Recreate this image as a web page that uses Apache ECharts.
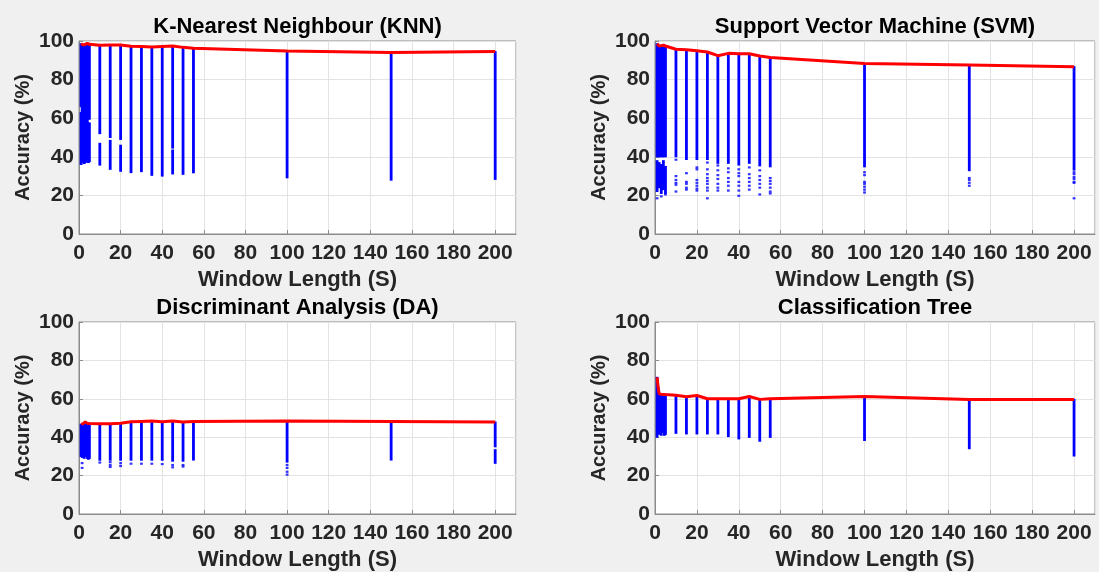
<!DOCTYPE html>
<html>
<head>
<meta charset="utf-8">
<script src="https://cdn.jsdelivr.net/npm/echarts@6/dist/echarts.min.js"></script>
<style>
html,body{margin:0;padding:0;background:#f0f0f0;}
#c{width:1099px;height:572px;}
</style>
</head>
<body>
<div id="c"></div>
<script>
// ---- data ----
const windows = [1, 1.5, 2, 2.5, 3, 3.5, 4, 4.5, 5, 10, 15, 20, 25, 30, 35, 40, 45, 50, 55, 100, 150, 200];
const xTicks = [0, 20, 40, 60, 80, 100, 120, 140, 160, 180, 200];
const yTicks = [0, 20, 40, 60, 80, 100];
const titles = ['K-Nearest Neighbour (KNN)', 'Support Vector Machine (SVM)', 'Discriminant Analysis (DA)', 'Classification Tree'];

// best accuracy per window (red line = top of blue columns)
const knnBest = [98.6, 98.2, 97.9, 98.0, 98.3, 98.6, 98.8, 98.5, 98.3, 97.8, 97.9, 97.9, 97.3, 97.1, 96.9, 97.2, 97.4, 96.7, 96.3, 94.8, 94.0, 94.5];
const svmBest = [98.6, 97.6, 97.4, 97.5, 97.6, 97.8, 97.8, 97.6, 97.4, 95.7, 95.5, 95.0, 94.3, 92.4, 93.6, 93.4, 93.4, 92.2, 91.4, 88.3, 87.6, 86.7];
const daBest  = [46.8, 46.3, 47.0, 47.5, 48.0, 47.5, 47.2, 47.0, 47.1, 47.0, 47.0, 47.3, 48.0, 48.2, 48.4, 48.0, 48.4, 47.9, 48.2, 48.4, 48.2, 47.9];
const treeBest= [71.2, 66.0, 62.6, 62.5, 62.4, 62.4, 62.3, 62.3, 62.2, 61.9, 61.1, 61.7, 60.0, 60.0, 60.0, 60.0, 61.2, 59.7, 60.0, 61.2, 59.7, 59.7];

// lower end of the dense blue column per window
const knnLow  = [36.0, 37.0, 38.0, 36.5, 37.0, 37.5, 38.0, 37.0, 37.5, 35.7, 33.5, 32.5, 31.8, 32.3, 30.4, 30.0, 31.1, 30.9, 31.7, 29.1, 27.9, 28.3];
const svmLow  = [40.0, 40.5, 40.0, 40.0, 40.5, 40.0, 40.0, 40.5, 40.0, 40.0, 38.6, 38.6, 38.6, 36.6, 36.6, 35.7, 36.6, 35.3, 34.8, 34.8, 32.8, 33.1];
const daLow   = [30.0, 29.5, 30.5, 29.0, 31.0, 30.0, 29.0, 28.5, 29.0, 28.0, 28.0, 28.0, 28.0, 28.0, 28.0, 28.0, 27.5, 27.5, 28.1, 27.0, 28.1, 26.4];
const treeLow = [40.0, 42.0, 41.5, 43.5, 41.0, 42.5, 44.0, 41.0, 41.5, 42.0, 41.7, 41.7, 41.7, 41.7, 40.3, 39.1, 39.9, 37.9, 39.9, 38.3, 34.0, 30.2];

// white gaps inside columns: [window, from, to]
const knnGaps = [[1, 63, 66], [10, 47, 52], [15, 48.5, 50], [20, 46, 49], [45, 43.5, 44.5], [4.5, 57.5, 59.5], [5, 57.5, 59.5]];
const svmGaps = [];
const daGaps  = [[200, 33.5, 35]];
const treeGaps = [];

// extra segments below the main column: [window, low, high]
const knnExtra = [];
const svmExtra = [[1, 22, 38], [1.5, 25, 36], [2, 24, 37], [2.5, 26, 33], [3, 21, 36], [3.5, 27, 35], [4, 23, 38], [4.5, 25, 34], [5, 21, 35]];
const daExtra = [];
const treeExtra = [];

// isolated dots: [window, accuracy]
const knnDots = [];
const svmDots = [
  [1, 18.5], [3, 19.5], [5, 20.5],
  [10, 38.5], [10, 30], [10, 28], [10, 26.5], [10, 25.5], [10, 22],
  [15, 31.5], [15, 27], [15, 26], [15, 24], [15, 23],
  [20, 34.5], [20, 33.5], [20, 28], [20, 26.5], [20, 25], [20, 23.5], [20, 22.5],
  [25, 37], [25, 33.5], [25, 31], [25, 29], [25, 27.5], [25, 26], [25, 24], [25, 22.5], [25, 18.5],
  [30, 35.5], [30, 33], [30, 30.5], [30, 28.5], [30, 26], [30, 24], [30, 22.5],
  [35, 34], [35, 32], [35, 29], [35, 27], [35, 25], [35, 22.5],
  [40, 33.5], [40, 31.5], [40, 30], [40, 27], [40, 25], [40, 22.5], [40, 19.8],
  [45, 34.5], [45, 31], [45, 29], [45, 27], [45, 25], [45, 23],
  [50, 33], [50, 30], [50, 28], [50, 26], [50, 24], [50, 20.5],
  [55, 29], [55, 27.5], [55, 26], [55, 24], [55, 22], [55, 21],
  [100, 32], [100, 30.5], [100, 27], [100, 26], [100, 24.5], [100, 23], [100, 21.5],
  [150, 29], [150, 28], [150, 26.5], [150, 25],
  [200, 32], [200, 31], [200, 29.5], [200, 28.5], [200, 27], [200, 26.5], [200, 18.5]
];
const daDots = [
  [1.5, 24], [1.5, 26.5],
  [10, 26.8], [15, 27], [15, 25.5], [15, 24.5], [20, 26.5], [20, 25],
  [25, 26.2], [30, 26.2], [35, 26.2], [40, 26],
  [45, 25.5], [45, 24.3], [50, 25.5], [50, 24.7], [100, 25.5], [100, 24], [100, 22], [100, 20.5]
];
const treeDots = [];

// ---- build ----
const FONT = '"Liberation Sans", Arial, sans-serif';
const grids = [
  {left: 79, top: 41, width: 437, height: 193},
  {left: 655, top: 41, width: 440, height: 193},
  {left: 79, top: 322, width: 437, height: 193},
  {left: 655, top: 322, width: 440, height: 193}
];
const sets = [
  {best: knnBest, low: knnLow, gaps: knnGaps, extra: knnExtra, dots: knnDots},
  {best: svmBest, low: svmLow, gaps: svmGaps, extra: svmExtra, dots: svmDots},
  {best: daBest, low: daLow, gaps: daGaps, extra: daExtra, dots: daDots},
  {best: treeBest, low: treeLow, gaps: treeGaps, extra: treeExtra, dots: treeDots}
];

function buildSegments(s) {
  const segs = [];
  windows.forEach((w, i) => {
    let pieces = [[s.low[i], s.best[i]]];
    s.gaps.filter(g => g[0] === w).forEach(g => {
      const next = [];
      pieces.forEach(p => {
        if (g[2] <= p[0] || g[1] >= p[1]) { next.push(p); return; }
        if (g[1] > p[0]) next.push([p[0], g[1]]);
        if (g[2] < p[1]) next.push([g[2], p[1]]);
      });
      pieces = next;
    });
    pieces.forEach(p => segs.push([w, p[0], p[1]]));
  });
  s.extra.forEach(e => segs.push(e));
  return segs;
}

function renderCol(params, api) {
  const x = api.value(0), lo = api.value(1), hi = api.value(2);
  const p1 = api.coord([x, hi]);
  const p2 = api.coord([x, lo]);
  const w = 2.8;
  return {
    type: 'rect',
    shape: {x: p1[0] - w / 2, y: p1[1] - 0.5, width: w, height: p2[1] - p1[1] + 1},
    style: {fill: '#0000ff'}
  };
}

const option = {
  backgroundColor: '#f0f0f0',
  animation: false,
  title: grids.map((g, i) => ({
    text: titles[i],
    left: g.left + g.width / 2,
    top: g.top - 25,
    textAlign: 'center',
    padding: 0,
    textStyle: {fontFamily: FONT, fontWeight: 'bold', fontSize: 22, color: '#000'}
  })),
  grid: grids.map(g => Object.assign({show: true, backgroundColor: '#ffffff', borderColor: '#8c8c8c', borderWidth: 1}, g)),
  xAxis: grids.map((g, i) => ({
    gridIndex: i, type: 'value', min: 0, max: 210, interval: 20,
    name: 'Window Length (S)', nameLocation: 'middle', nameGap: 35,
    nameTextStyle: {fontFamily: FONT, fontWeight: 'bold', fontSize: 22, color: '#262626'},
    axisLine: {show: true, lineStyle: {color: '#8c8c8c', width: 1}},
    axisTick: {show: true, inside: true, length: 4, lineStyle: {color: '#8c8c8c'}},
    axisLabel: {fontFamily: FONT, fontWeight: 'bold', fontSize: 21, color: '#262626', margin: 9,
      showMaxLabel: false, formatter: v => (xTicks.indexOf(v) >= 0 ? String(v) : '')},
    splitLine: {show: true, lineStyle: {color: '#e3e3e3', width: 1}}
  })),
  yAxis: grids.map((g, i) => ({
    gridIndex: i, type: 'value', min: 0, max: 100, interval: 20,
    name: 'Accuracy (%)', nameLocation: 'middle', nameGap: 46,
    nameTextStyle: {fontFamily: FONT, fontWeight: 'bold', fontSize: 20, color: '#262626'},
    axisLine: {show: true, lineStyle: {color: '#8c8c8c', width: 1}},
    axisTick: {show: true, inside: true, length: 4, lineStyle: {color: '#8c8c8c'}},
    axisLabel: {fontFamily: FONT, fontWeight: 'bold', fontSize: 21, color: '#262626', margin: 5,
      formatter: v => (yTicks.indexOf(v) >= 0 ? String(v) : '')},
    splitLine: {show: true, lineStyle: {color: '#e3e3e3', width: 1}}
  })),
  series: []
};

sets.forEach((s, i) => {
  option.series.push({
    type: 'custom', xAxisIndex: i, yAxisIndex: i,
    renderItem: renderCol, encode: {x: 0, y: [1, 2]},
    data: buildSegments(s), z: 2, silent: true
  });
  option.series.push({
    type: 'scatter', xAxisIndex: i, yAxisIndex: i,
    symbol: 'rect', symbolSize: [2.8, 2.2],
    itemStyle: {color: '#0000ff'},
    data: s.dots, z: 3, silent: true
  });
  option.series.push({
    type: 'line', xAxisIndex: i, yAxisIndex: i,
    data: windows.map((w, k) => [w, s.best[k]]),
    showSymbol: false, symbol: 'none',
    lineStyle: {color: '#ff0000', width: 3},
    z: 5, silent: true
  });
});

const chart = echarts.init(document.getElementById('c'), null, {renderer: 'canvas'});
chart.setOption(option);
</script>
</body>
</html>
